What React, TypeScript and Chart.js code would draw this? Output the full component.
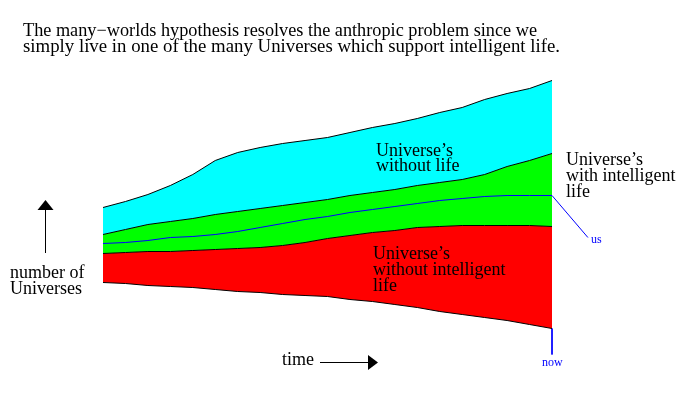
import { useEffect, useRef } from "react";
import { Chart, registerables } from "chart.js";

Chart.register(...registerables);

// time axis (arbitrary units, 0 = earliest, 100 = now)
const TIME = [0, 5, 10, 15, 20, 25, 30, 35, 40, 45, 50, 55, 60, 65, 70, 75, 80, 85, 90, 95, 100];

// number of Universes (arbitrary units) – boundaries of the stacked regions
const WITHOUT_LIFE_TOP = [93.5, 96.5, 100, 104.5, 110, 117, 121, 123.5, 125.5, 127, 128.5, 131, 133.5, 135.5, 138, 141, 143.5, 147.5, 150.5, 153, 157];
const INTELLIGENT_TOP = [80, 82.5, 85, 86.5, 88, 90, 91.5, 93, 94.5, 96, 97.5, 99.5, 101, 102.5, 104.5, 106, 107.5, 110, 114, 117, 120.5];
const OUR_PATH = [75.5, 76, 77, 78.5, 79, 80, 81.5, 83.5, 85.5, 87.5, 89, 91, 92.5, 94, 95.5, 97, 98, 99, 99.5, 99.5, 99.5];
const NO_INTELLIGENT_TOP = [70.5, 71, 71.5, 71.5, 72, 72.5, 73, 73.5, 74.5, 76, 78, 79.5, 81, 82, 83.5, 84, 84.5, 84.5, 84.5, 84.5, 84];
const BASELINE = [56, 55.5, 54.5, 54, 53.5, 52.5, 51.5, 51, 50, 49.5, 49, 47.5, 46.5, 45, 43.5, 41.5, 40, 38.5, 37, 35, 33];

// pointer lines
const US_POINTER_T = [100, 108];
const US_POINTER_N = [99.5, 78.5];
const NOW_POINTER_T = [100, 100];
const NOW_POINTER_N = [33, 20];

// texts
const TITLE_LINES = [
  "The many\u2212worlds hypothesis resolves the anthropic problem since we",
  "simply live in one of the many Universes which support intelligent life.",
];
const TITLE_WIDTHS = [514, 537];
const LABEL_NO_LIFE = ["Universe\u2019s", "without life"];
const LABEL_INTELLIGENT = ["Universe\u2019s", "with intelligent", "life"];
const LABEL_NO_INTELLIGENT = ["Universe\u2019s", "without intelligent", "life"];
const LABEL_Y = ["number of", "Universes"];
const LABEL_X = "time";
const LABEL_US = "us";
const LABEL_NOW = "now";

const pts = (xs: number[], ys: number[]) => xs.map((x, i) => ({ x, y: ys[i] }));

const annotations = {
  id: "annotations",
  afterDraw(chart: any) {
    const ctx = chart.ctx as CanvasRenderingContext2D;
    ctx.save();
    ctx.fillStyle = "#000";
    ctx.textBaseline = "alphabetic";
    ctx.textAlign = "left";
    ctx.font = '18px "Liberation Serif"';
    const block = (lines: string[], x: number, y: number, lh: number) =>
      lines.forEach((l, i) => ctx.fillText(l, x, y + i * lh));
    TITLE_LINES.forEach((l, i) => {
      const w = ctx.measureText(l).width;
      ctx.save();
      ctx.translate(23, 36 + i * 16);
      ctx.scale(TITLE_WIDTHS[i] / w, 1);
      ctx.fillText(l, 0, 0);
      ctx.restore();
    });
    block(LABEL_NO_LIFE, 376, 156, 15);
    block(LABEL_INTELLIGENT, 566, 165, 16);
    block(LABEL_NO_INTELLIGENT, 373, 259, 16);
    block(LABEL_Y, 10, 278, 16);
    ctx.fillText(LABEL_X, 282, 365);

    // arrows
    ctx.strokeStyle = "#000";
    ctx.lineWidth = 1;
    ctx.beginPath();
    ctx.moveTo(45.5, 208);
    ctx.lineTo(45.5, 253);
    ctx.moveTo(320, 362.5);
    ctx.lineTo(370, 362.5);
    ctx.stroke();
    ctx.beginPath();
    ctx.moveTo(45.5, 200);
    ctx.lineTo(37.5, 210);
    ctx.lineTo(53.5, 210);
    ctx.closePath();
    ctx.fill();
    ctx.beginPath();
    ctx.moveTo(378, 362.5);
    ctx.lineTo(368, 355);
    ctx.lineTo(368, 370);
    ctx.closePath();
    ctx.fill();

    ctx.fillStyle = "#0000ff";
    ctx.font = '12px "Liberation Serif"';
    ctx.fillText(LABEL_US, 591, 243);
    ctx.fillText(LABEL_NOW, 542, 366);
    ctx.restore();
  },
};

export default function App() {
  const ref = useRef<HTMLCanvasElement | null>(null);
  useEffect(() => {
    if (!ref.current) return;
    const chart = new Chart(ref.current, {
      type: "line",
      data: {
        datasets: [
          {
            label: "us",
            data: pts(TIME, OUR_PATH),
            borderColor: "#0000ff",
            borderWidth: 1,
            fill: false,
          },
          {
            label: "baseline",
            data: pts(TIME, BASELINE),
            borderColor: "#000",
            borderWidth: 1,
            fill: false,
          },
          {
            label: "without intelligent life",
            data: pts(TIME, NO_INTELLIGENT_TOP),
            borderColor: "#000",
            borderWidth: 1,
            backgroundColor: "#ff0000",
            fill: 1,
          },
          {
            label: "with intelligent life",
            data: pts(TIME, INTELLIGENT_TOP),
            borderColor: "#000",
            borderWidth: 1,
            backgroundColor: "#00ff00",
            fill: 2,
          },
          {
            label: "without life",
            data: pts(TIME, WITHOUT_LIFE_TOP),
            borderColor: "#000",
            borderWidth: 1,
            backgroundColor: "#00ffff",
            fill: 3,
          },
          {
            label: "us pointer",
            data: pts(US_POINTER_T, US_POINTER_N),
            borderColor: "#0000ff",
            borderWidth: 1,
            fill: false,
            clip: false,
          } as any,
          {
            label: "now pointer",
            data: pts(NOW_POINTER_T, NOW_POINTER_N),
            borderColor: "#0000ff",
            borderWidth: 1,
            fill: false,
            clip: false,
          } as any,
        ],
      },
      options: {
        responsive: false,
        maintainAspectRatio: false,
        animation: false,
        layout: { padding: { left: 103, right: 132, top: 0, bottom: 0 } },
        elements: { point: { radius: 0 }, line: { tension: 0 } },
        plugins: { legend: { display: false }, tooltip: { enabled: false } },
        scales: {
          x: { type: "linear", display: false, min: 0, max: 100 },
          y: { type: "linear", display: false, min: -0.25, max: 197.25 },
        },
      },
      plugins: [annotations],
    });
    return () => chart.destroy();
  }, []);
  return (
    <div style={{ position: "absolute", left: 0, top: 0, width: 684, height: 395, background: "#fff" }}>
      <canvas ref={ref} width={684} height={395} style={{ display: "block" }} />
    </div>
  );
}
